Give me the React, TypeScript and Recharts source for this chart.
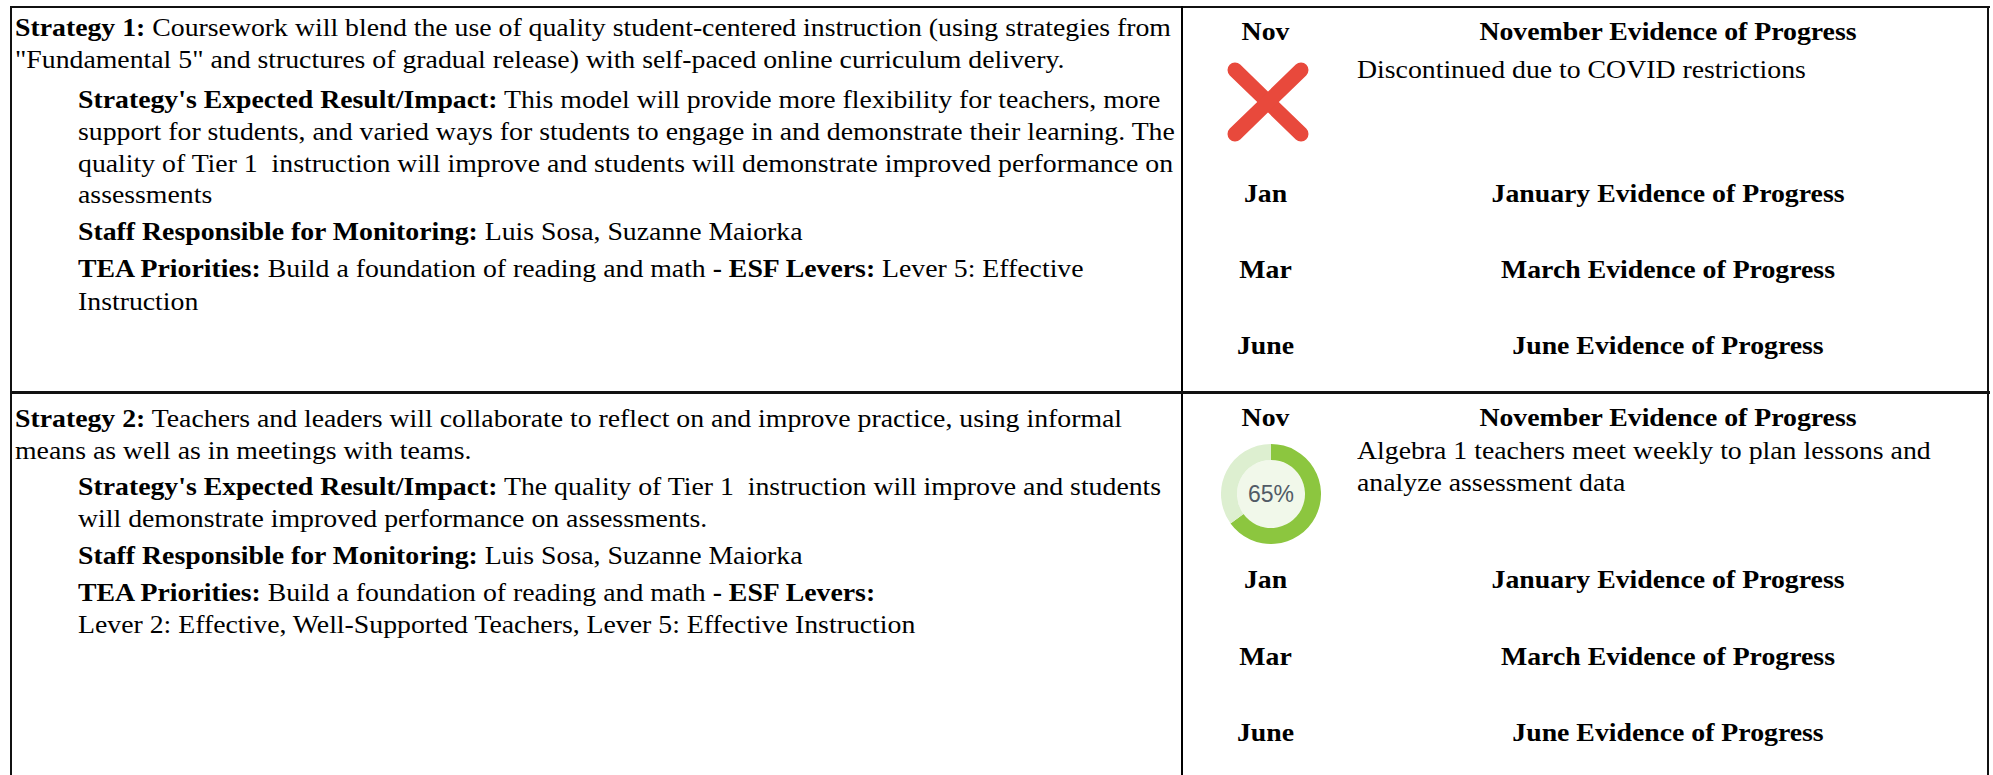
import { Cell, Label, Pie, PieChart } from "recharts";

const SERIF = '"Liberation Serif", "Times New Roman", serif';
const SANS = '"Liberation Sans", Arial, sans-serif';
const STRETCH = "scaleX(1.068)";

// ---- data ----
const months = ["Nov", "Jan", "Mar", "June"];
const evidenceTitles = [
    "November Evidence of Progress",
    "January Evidence of Progress",
    "March Evidence of Progress",
    "June Evidence of Progress",
];

type Seg = [boolean, string];

const strategyOneLines: Seg[][] = [
    [[true, "Strategy 1:"], [false, " Coursework will blend the use of quality student-centered instruction (using strategies from"]],
    [[false, '"Fundamental 5" and structures of gradual release) with self-paced online curriculum delivery.']],
    [[true, "Strategy's Expected Result/Impact:"], [false, " This model will provide more flexibility for teachers, more"]],
    [[false, "support for students, and varied ways for students to engage in and demonstrate their learning. The"]],
    [[false, "quality of Tier 1  instruction will improve and students will demonstrate improved performance on"]],
    [[false, "assessments"]],
    [[true, "Staff Responsible for Monitoring:"], [false, " Luis Sosa, Suzanne Maiorka"]],
    [[true, "TEA Priorities:"], [false, " Build a foundation of reading and math "], [true, "- ESF Levers:"], [false, " Lever 5: Effective"]],
    [[false, "Instruction"]],
];

const strategyTwoLines: Seg[][] = [
    [[true, "Strategy 2:"], [false, " Teachers and leaders will collaborate to reflect on and improve practice, using informal"]],
    [[false, "means as well as in meetings with teams."]],
    [[true, "Strategy's Expected Result/Impact:"], [false, " The quality of Tier 1  instruction will improve and students"]],
    [[false, "will demonstrate improved performance on assessments."]],
    [[true, "Staff Responsible for Monitoring:"], [false, " Luis Sosa, Suzanne Maiorka"]],
    [[true, "TEA Priorities:"], [false, " Build a foundation of reading and math "], [true, "- ESF Levers:"]],
    [[false, "Lever 2: Effective, Well-Supported Teachers, Lever 5: Effective Instruction"]],
];

const strategyOneNotes = ["Discontinued due to COVID restrictions"];
const strategyTwoNotes = ["Algebra 1 teachers meet weekly to plan lessons and", "analyze assessment data"];

const novProgress = [
    { name: "Complete", value: 65 },
    { name: "Remaining", value: 35 },
];
const progressColors = ["#8CC63F", "#DDEFD0"];

// ---- layout ----
const s1Baselines = [37, 69, 109, 141, 173, 204, 241, 278, 311];
const s1Indent = [15, 15, 78, 78, 78, 78, 78, 78, 78];
const s2Baselines = [428, 460, 496, 528, 565, 602, 634];
const s2Indent = [15, 15, 78, 78, 78, 78, 78];
const row1MonthBaselines = [41, 203, 279, 355];
const row2MonthBaselines = [427, 589, 666, 742];

const TextLine = ({ segs, x, baseline }: { segs: Seg[]; x: number; baseline: number }) => (
    <div
        style={{
            position: "absolute",
            left: x,
            top: baseline - 25,
            fontFamily: SERIF,
            fontSize: 26,
            lineHeight: "32px",
            whiteSpace: "pre",
            color: "#000",
            transform: STRETCH,
            transformOrigin: "left center",
        }}
    >
        {segs.map(([bold, text], i) => (
            <span key={i} style={{ fontWeight: bold ? 700 : 400 }}>
                {text}
            </span>
        ))}
    </div>
);

const Centered = ({ text, left, width, baseline }: { text: string; left: number; width: number; baseline: number }) => (
    <div
        style={{
            position: "absolute",
            left,
            width,
            top: baseline - 25,
            textAlign: "center",
            fontFamily: SERIF,
            fontSize: 26,
            fontWeight: 700,
            lineHeight: "32px",
            whiteSpace: "pre",
            transform: STRETCH,
            transformOrigin: "center center",
        }}
    >
        {text}
    </div>
);

const MonthColumn = ({ baselines }: { baselines: number[] }) => (
    <>
        {months.map((m, i) => (
            <Centered key={m} text={m} left={1183} width={165} baseline={baselines[i]} />
        ))}
        {evidenceTitles.map((t, i) => (
            <Centered key={t} text={t} left={1348} width={640} baseline={baselines[i]} />
        ))}
    </>
);

const ProgressDonut = () => (
    <div style={{ position: "absolute", left: 1221, top: 444 }}>
        <PieChart width={100} height={100} margin={{ top: 0, right: 0, bottom: 0, left: 0 }}>
            <Pie
                data={[{ name: "inner", value: 1 }]}
                dataKey="value"
                innerRadius={0}
                outerRadius={34}
                fill="#F1F8EA"
                stroke="none"
                isAnimationActive={false}
            >
                <Label
                    value={`${novProgress[0].value}%`}
                    position="center"
                    fill="#525b66"
                    fontSize={23}
                    fontFamily={SANS}
                />
            </Pie>
            <Pie
                data={novProgress}
                dataKey="value"
                nameKey="name"
                innerRadius={34}
                outerRadius={50}
                startAngle={90}
                endAngle={-270}
                stroke="none"
                isAnimationActive={false}
            >
                {novProgress.map((entry, i) => (
                    <Cell key={entry.name} fill={progressColors[i]} />
                ))}
            </Pie>
        </PieChart>
    </div>
);

const RedCross = () => (
    <svg style={{ position: "absolute", left: 1220, top: 56 }} width={100} height={100}>
        <g stroke="#E8493C" strokeWidth={15} strokeLinecap="round">
            <line x1={15} y1={14} x2={81} y2={78} />
            <line x1={81} y1={14} x2={15} y2={78} />
        </g>
    </svg>
);

const App = () => (
    <div
        style={{
            position: "absolute",
            left: 0,
            top: 0,
            width: 1993,
            height: 775,
            overflow: "hidden",
            background: "#fff",
        }}
    >
        {/* borders */}
        <div style={{ position: "absolute", left: 10, top: 6, width: 1980, height: 2, background: "#111" }} />
        <div style={{ position: "absolute", left: 10, top: 6, width: 2, height: 800, background: "#111" }} />
        <div style={{ position: "absolute", left: 1987, top: 6, width: 2, height: 800, background: "#111" }} />
        <div style={{ position: "absolute", left: 1181, top: 6, width: 2, height: 800, background: "#000" }} />
        <div style={{ position: "absolute", left: 10, top: 391, width: 1980, height: 3, background: "#111" }} />

        {strategyOneLines.map((segs, i) => (
            <TextLine key={`s1-${i}`} segs={segs} x={s1Indent[i]} baseline={s1Baselines[i]} />
        ))}
        {strategyTwoLines.map((segs, i) => (
            <TextLine key={`s2-${i}`} segs={segs} x={s2Indent[i]} baseline={s2Baselines[i]} />
        ))}

        <MonthColumn baselines={row1MonthBaselines} />
        <MonthColumn baselines={row2MonthBaselines} />

        {strategyOneNotes.map((t, i) => (
            <TextLine key={t} segs={[[false, t]]} x={1357} baseline={79 + i * 32} />
        ))}
        {strategyTwoNotes.map((t, i) => (
            <TextLine key={t} segs={[[false, t]]} x={1357} baseline={460 + i * 32} />
        ))}

        <RedCross />
        <ProgressDonut />
    </div>
);

export default App;
